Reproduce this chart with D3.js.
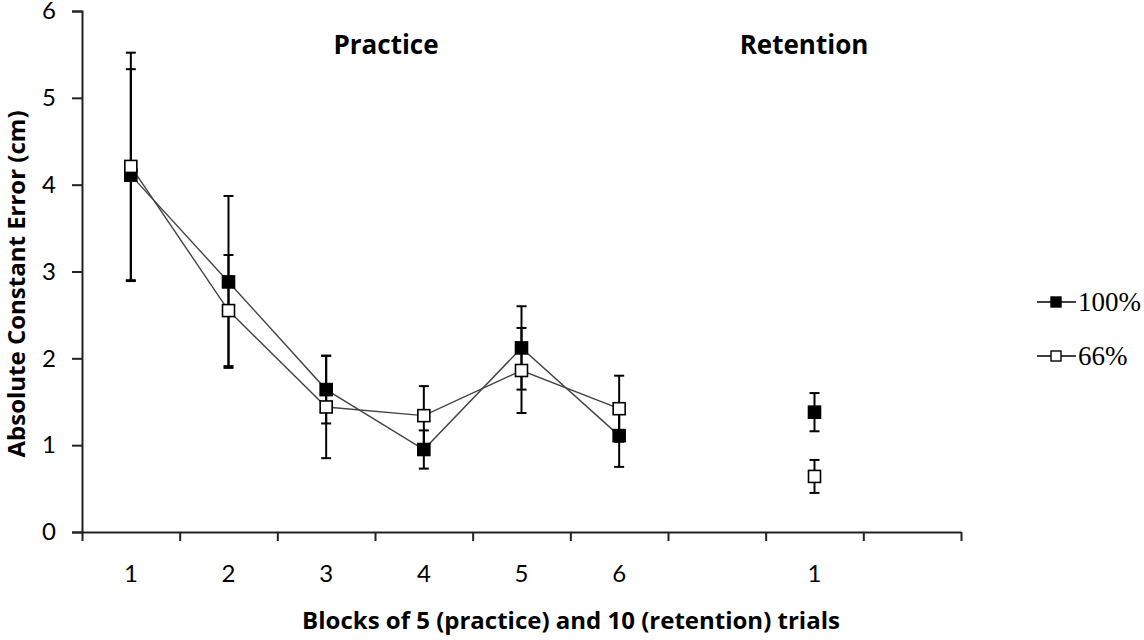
<!DOCTYPE html>
<html>
<head>
<meta charset="utf-8">
<script src="https://cdn.jsdelivr.net/npm/d3@7"></script>
<style>
  body { margin: 0; background: #fff; }
  svg { display: block; }
  .axis path, .axis line { stroke: #222; stroke-width: 2px; }
  .axis text { font-family: Lato, "Open Sans", sans-serif; font-size: 24px; fill: #000; }
  .title { font-family: "Open Sans", Lato, sans-serif; font-weight: bold; font-size: 24px; fill: #000; }
  .phase { font-size: 26px; }
  .legend text { font-family: "Liberation Serif", serif; font-size: 27px; fill: #000; }
</style>
</head>
<body>
<svg id="canvas" width="1144" height="640"></svg>
<script>
// block labels along the x axis (empty slots are gaps)
let blocks = ['1', '2', '3', '4', '5', '6', '', '1', '']
let practiceIdx = [0, 1, 2, 3, 4, 5]
let retentionIdx = [7]

// 100% group (filled squares): 6 practice blocks + 1 retention block
let full = [4.11, 2.88, 1.64, 0.95, 2.12, 1.11, 1.38]
let fullErr = [1.22, 0.99, 0.39, 0.22, 0.48, 0.36, 0.22]
// 66% group (open squares)
let part = [4.21, 2.55, 1.44, 1.34, 1.86, 1.42, 0.64]
let partErr = [1.31, 0.64, 0.59, 0.34, 0.49, 0.38, 0.19]

let yTicks = [0, 1, 2, 3, 4, 5, 6]
let seriesNames = ['100%', '66%']

let canvas = d3.select('#canvas')

let x = d3.scaleBand().domain(d3.range(blocks.length)).range([82, 961]).padding(0)
let xEdge = d3.scaleLinear().domain([0, blocks.length]).range([82, 961])
let y = d3.scaleLinear().domain([0, 6]).range([532, 11])

let cx = i => x(i) + x.bandwidth() / 2

// axes
canvas.append('g')
      .attr('class', 'axis')
      .attr('transform', 'translate(82,0)')
      .call(d3.axisLeft(y).tickValues(yTicks).tickSize(10).tickPadding(16).tickFormat(d3.format('d')))

canvas.append('g')
      .attr('class', 'axis')
      .attr('transform', 'translate(0,532)')
      .call(d3.axisBottom(xEdge).ticks(blocks.length).tickSize(9).tickFormat('').tickSizeOuter(0))

let xLabels = canvas.append('g')
      .attr('class', 'axis')
      .attr('transform', 'translate(0,532)')
      .call(d3.axisBottom(x).tickSize(0).tickPadding(33).tickFormat(i => blocks[i]))
xLabels.select('.domain').remove()

// titles
canvas.append('text').attr('class', 'title phase')
      .attr('x', 386).attr('y', 54).attr('text-anchor', 'middle').text('Practice')
canvas.append('text').attr('class', 'title phase')
      .attr('x', 804).attr('y', 54).attr('text-anchor', 'middle').text('Retention')
canvas.append('text').attr('class', 'title')
      .attr('x', 571).attr('y', 629).attr('text-anchor', 'middle')
      .text('Blocks of 5 (practice) and 10 (retention) trials')
canvas.append('text').attr('class', 'title')
      .attr('transform', 'translate(25,284) rotate(-90)')
      .attr('text-anchor', 'middle')
      .text('Absolute Constant Error (cm)')

let series = [
  {name: seriesNames[0], values: full, err: fullErr, fill: '#000'},
  {name: seriesNames[1], values: part, err: partErr, fill: '#fff'}
]

// connecting lines for practice blocks only
series.forEach(s => {
  canvas.append('path')
        .datum(practiceIdx)
        .attr('fill', 'none')
        .attr('stroke', '#444')
        .attr('stroke-width', 1.4)
        .attr('d', d3.line().x(i => cx(i)).y(i => y(s.values[i])))
})

let allIdx = practiceIdx.concat(retentionIdx)
let valueAt = (s, i) => s.values[i < 6 ? i : i - 1]
let errAt = (s, i) => s.err[i < 6 ? i : i - 1]

// error bars
series.forEach(s => {
  let g = canvas.append('g').attr('stroke', '#000').attr('stroke-width', 2)
  allIdx.forEach(i => {
    let v = valueAt(s, i), e = errAt(s, i)
    g.append('line').attr('x1', cx(i)).attr('x2', cx(i)).attr('y1', y(v + e)).attr('y2', y(v - e))
    g.append('line').attr('x1', cx(i) - 5).attr('x2', cx(i) + 5).attr('y1', y(v + e)).attr('y2', y(v + e))
    g.append('line').attr('x1', cx(i) - 5).attr('x2', cx(i) + 5).attr('y1', y(v - e)).attr('y2', y(v - e))
  })
})

// markers
series.forEach(s => {
  canvas.append('g').selectAll('rect')
        .data(allIdx)
        .enter()
        .append('rect')
        .attr('x', i => cx(i) - 6)
        .attr('y', i => y(valueAt(s, i)) - 6)
        .attr('width', 12)
        .attr('height', 12)
        .attr('fill', s.fill)
        .attr('stroke', '#000')
        .attr('stroke-width', 1.6)
})

// legend
let legend = canvas.append('g').attr('class', 'legend')
series.forEach((s, k) => {
  let ly = 302 + k * 54
  legend.append('line').attr('x1', 1037).attr('x2', 1076).attr('y1', ly).attr('y2', ly)
        .attr('stroke', '#000').attr('stroke-width', 1.6)
  legend.append('rect').attr('x', 1051).attr('y', ly - 5).attr('width', 10).attr('height', 10)
        .attr('fill', s.fill).attr('stroke', '#000').attr('stroke-width', 1.4)
  legend.append('text').attr('x', 1078).attr('y', ly + 9).text(s.name)
})
</script>
</body>
</html>
